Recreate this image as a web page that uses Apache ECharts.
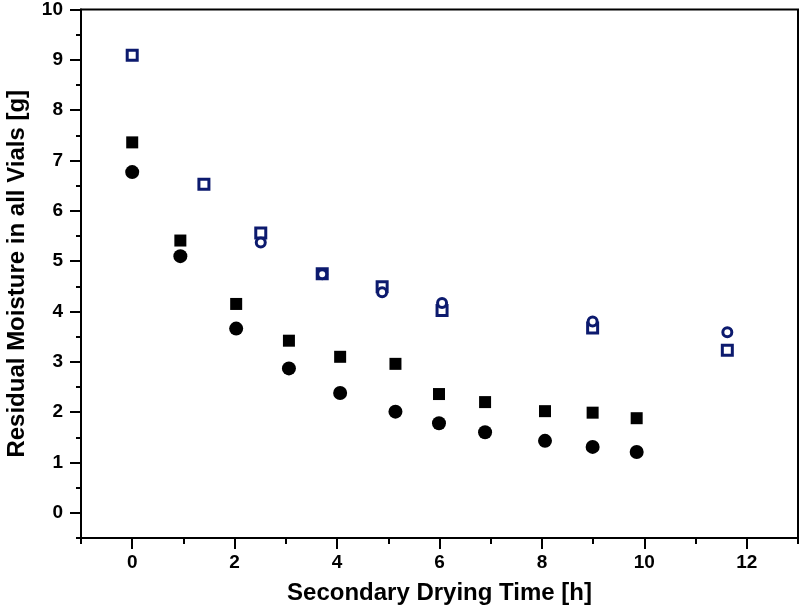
<!DOCTYPE html>
<html>
<head>
<meta charset="utf-8">
<script src="https://cdn.jsdelivr.net/npm/echarts@6/dist/echarts.min.js"></script>
<style>html,body{margin:0;padding:0;background:#fff}#c{width:799px;height:609px}</style>
</head>
<body>
<div id="c"></div>
<script>
const blackX = [0, 0.94, 2.03, 3.06, 4.06, 5.14, 5.99, 6.89, 8.06, 8.99, 9.85];
const filledSquares = [7.36, 5.41, 4.15, 3.42, 3.10, 2.96, 2.36, 2.20, 2.02, 1.99, 1.88];
const filledCircles = [6.77, 5.10, 3.66, 2.87, 2.38, 2.01, 1.78, 1.60, 1.43, 1.31, 1.21];
const openSquareX = [0, 1.40, 2.51, 3.71, 4.88, 6.05, 8.99, 11.62];
const openSquares = [9.09, 6.53, 5.56, 4.75, 4.49, 4.02, 3.67, 3.23];
const openCircleX = [2.51, 3.71, 4.88, 6.05, 8.99, 11.62];
const openCircles = [5.37, 4.74, 4.38, 4.17, 3.80, 3.59];
const xTickLabels = [0, 2, 4, 6, 8, 10, 12];
const yTickLabels = [0, 1, 2, 3, 4, 5, 6, 7, 8, 9, 10];

const BLUE = '#0c1a6e';
const FONT = '"Liberation Sans", Arial, sans-serif';
const zip = (xs, ys) => xs.map((x, i) => [x, ys[i]]);

const chart = echarts.init(document.getElementById('c'), null, {renderer: 'canvas'});
const lbl = {color: '#000', fontFamily: FONT, fontWeight: 'bold', fontSize: 19};
const line = {color: '#000', width: 2};
chart.setOption({
  animation: false,
  backgroundColor: '#fff',
  grid: {left: 81, right: 1, top: 9.5, bottom: 71, containLabel: false, outerBoundsMode: 'none',
         show: true, borderColor: '#000', borderWidth: 2, backgroundColor: 'transparent'},
  xAxis: [
    {type: 'value', min: -1, max: 13, interval: 1, position: 'bottom',
     axisLine: {show: true, onZero: false, lineStyle: line},
     axisTick: {show: true, inside: false, length: 6, lineStyle: line},
     axisLabel: {show: false}, splitLine: {show: false},
     name: 'Secondary Drying Time [h]', nameLocation: 'middle', nameGap: 43,
     nameTextStyle: {color: '#000', fontFamily: FONT, fontWeight: 'bold', fontSize: 24}},
    {type: 'value', min: -1, max: 13, position: 'bottom',
     axisLine: {show: false, onZero: false},
     axisTick: {show: true, inside: false, length: 11, customValues: xTickLabels, lineStyle: line},
     axisLabel: Object.assign({show: true, margin: 15, customValues: xTickLabels}, lbl),
     splitLine: {show: false}}
  ],
  yAxis: [
    {type: 'value', min: -0.5, max: 10, interval: 0.5, position: 'left',
     axisLine: {show: true, onZero: false, lineStyle: line},
     axisTick: {show: true, inside: false, length: 5, lineStyle: line},
     axisLabel: {show: false}, splitLine: {show: false},
     name: 'Residual Moisture in all Vials [g]', nameLocation: 'middle', nameGap: 52,
     nameTextStyle: {color: '#000', fontFamily: FONT, fontWeight: 'bold', fontSize: 24}},
    {type: 'value', min: -0.5, max: 10, position: 'left',
     axisLine: {show: false, onZero: false},
     axisTick: {show: true, inside: false, length: 11, customValues: yTickLabels, lineStyle: line},
     axisLabel: Object.assign({show: true, margin: 18, customValues: yTickLabels}, lbl),
     splitLine: {show: false}}
  ],
  series: [
    {type: 'scatter', xAxisIndex: 0, yAxisIndex: 0, data: zip(blackX, filledSquares),
     symbol: 'rect', symbolSize: 12, itemStyle: {color: '#000', opacity: 1}},
    {type: 'scatter', xAxisIndex: 0, yAxisIndex: 0, data: zip(blackX, filledCircles),
     symbol: 'circle', symbolSize: 14, itemStyle: {color: '#000', opacity: 1}},
    {type: 'scatter', xAxisIndex: 0, yAxisIndex: 0, data: zip(openSquareX, openSquares),
     symbol: 'rect', symbolSize: 10, itemStyle: {color: '#fff', borderColor: BLUE, borderWidth: 3, opacity: 1}},
    {type: 'scatter', xAxisIndex: 0, yAxisIndex: 0, data: zip(openCircleX, openCircles),
     symbol: 'circle', symbolSize: 9, itemStyle: {color: '#fff', borderColor: BLUE, borderWidth: 3, opacity: 1}}
  ]
});
</script>
</body>
</html>
